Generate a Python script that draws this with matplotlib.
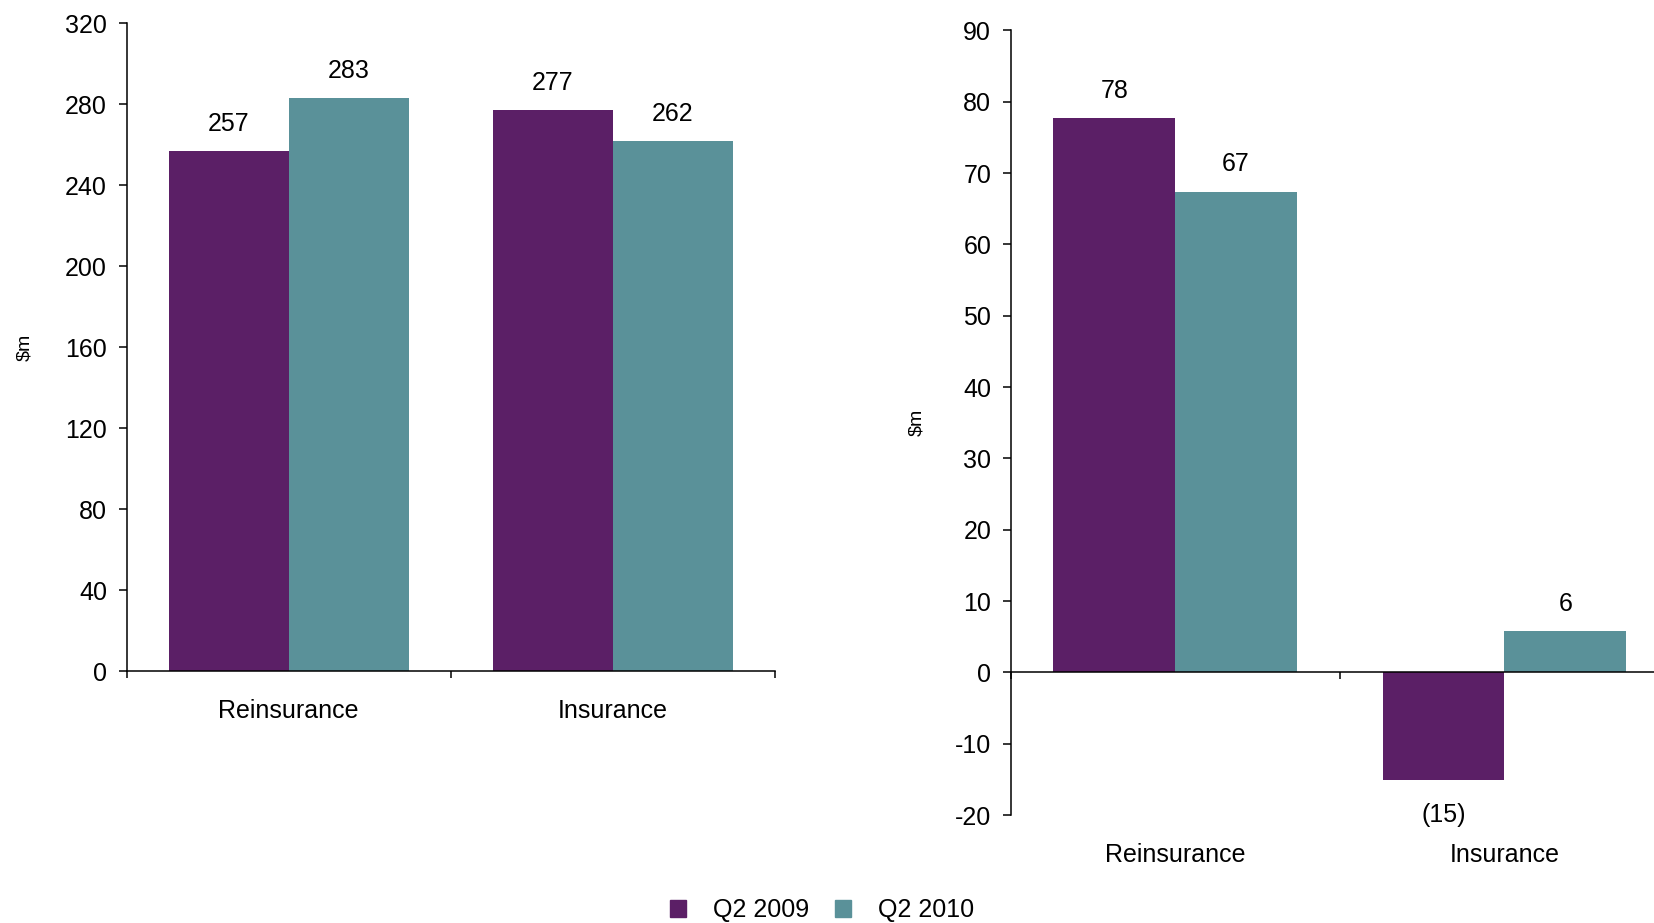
import numpy as np
import matplotlib.pyplot as plt
from matplotlib.patches import Patch

plt.rcParams['font.family'] = ['Liberation Sans', 'DejaVu Sans']
plt.rcParams['axes.unicode_minus'] = False

categories = ['Reinsurance', 'Insurance']
series = ['Q2 2009', 'Q2 2010']
left_q2_2009 = [257, 277]
left_q2_2010 = [283, 262]
right_q2_2009 = [77.7, -15.1]
right_q2_2010 = [67.4, 5.8]

purple = '#5B1F66'
teal = '#5A9199'
bar_w = 0.37
fs = 18


def fmt(v):
    # negatives shown in brackets
    v = int(round(v))
    return f'({abs(v)})' if v < 0 else f'{v}'


def draw_panel(ax, v09, v10, ylim, step, label_x):
    x = np.arange(len(categories))
    for vals, off, col in [(v09, -bar_w / 2, purple), (v10, bar_w / 2, teal)]:
        ax.bar(x + off, vals, width=bar_w, color=col, linewidth=0)
        for xi, v in zip(x + off, vals):
            dy = 19.5 if v >= 0 else -25
            ax.annotate(fmt(v), (xi, v), xytext=(0, dy), textcoords='offset points',
                        ha='center', va='center', fontsize=fs)
    ax.set_xlim(-0.5, len(categories) - 0.5)
    ax.set_ylim(*ylim)
    ax.set_yticks(np.arange(ylim[0], ylim[1] + 1, step))
    ax.set_xticks(np.arange(-0.5, len(categories), 1.0))
    ax.set_xticklabels([])
    ax.tick_params(axis='x', direction='out', length=5, width=1.1)
    ax.tick_params(axis='y', direction='out', length=6, width=1.1, labelsize=fs, pad=8)
    for s in ['top', 'right']:
        ax.spines[s].set_visible(False)
    for s in ['left', 'bottom']:
        ax.spines[s].set_linewidth(1.1)
    ax.spines['bottom'].set_position(('data', 0))
    for xi, c in zip(x, categories):
        ax.annotate(c, (xi, 0), xycoords=('data', 'axes fraction'), xytext=(0, -28.5),
                    textcoords='offset points', ha='center', va='center', fontsize=fs)
    ax.set_ylabel(r'\$m', fontsize=14)
    ax.yaxis.label.set_va('center')
    ax.yaxis.set_label_coords(label_x, 0.5)


fig = plt.figure(figsize=(16.54, 9.23), dpi=100)
ax1 = fig.add_axes([0.0765, 0.273, 0.392, 0.7017])
ax2 = fig.add_axes([0.611, 0.117, 0.398, 0.8501])

draw_panel(ax1, left_q2_2009, left_q2_2010, (0, 320), 40, -0.157)
draw_panel(ax2, right_q2_2009, right_q2_2010, (-20, 90), 10, -0.143)

handles = [Patch(color=purple), Patch(color=teal)]
fig.legend(handles, series, loc='center', bbox_to_anchor=(0.497, 0.014), ncol=2,
           frameon=False, fontsize=fs, handlelength=0.64, handleheight=0.64,
           columnspacing=1.0, handletextpad=1.1, borderpad=0)

fig.savefig('out.png', dpi=100)
